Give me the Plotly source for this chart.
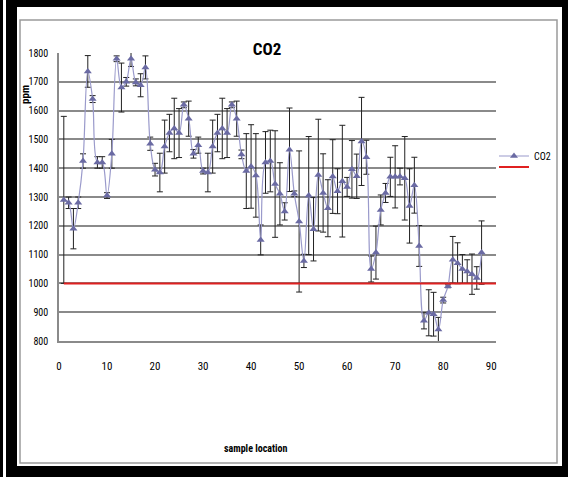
import plotly.graph_objects as go

# ---------------- data ----------------
sample_location = list(range(1, 89))
co2_ppm = [
    1290, 1280, 1190, 1280, 1425, 1736, 1640, 1420, 1420, 1305,
    1450, 1780, 1680, 1700, 1780, 1698, 1688, 1750, 1485, 1395,
    1385, 1475, 1522, 1538, 1522, 1620, 1572, 1450, 1480, 1390,
    1385, 1475, 1522, 1538, 1522, 1620, 1572, 1448, 1390, 1406,
    1375, 1151, 1420, 1425, 1345, 1311, 1250, 1464, 1311, 1215,
    1078, 1305, 1188, 1376, 1314, 1261, 1371, 1320, 1355, 1335,
    1396, 1372, 1493, 1438, 1050, 1107, 1255, 1314, 1370, 1370,
    1371, 1365, 1269, 1341, 1130, 870, 898, 893, 840, 942,
    990, 1082, 1070, 1050, 1041, 1032, 1019, 1107,
]
co2_err = [
    290, 20, 70, 20, 25, 55, 12, 20, 20, 10,
    50, 10, 85, 15, 27, 12, 40, 40, 23, 22,
    67, 92, 65, 105, 85, 10, 61, 15, 28, 10,
    67, 92, 65, 105, 85, 10, 61, 15, 130, 145,
    145, 52, 107, 107, 185, 108, 30, 145, 10, 245,
    23, 205, 110, 194, 136, 99, 128, 78, 194, 33,
    100, 77, 153, 59, 45, 92, 52, 33, 68, 108,
    29, 145, 129, 97, 71, 28, 80, 76, 42, 10,
    5, 81, 71, 50, 41, 70, 39, 110,
]
limit_x = [1, 91]
limit_y = [1000, 1000]
x_ticks = [0, 10, 20, 30, 40, 50, 60, 70, 80, 90]
y_ticks = [800, 900, 1000, 1100, 1200, 1300, 1400, 1500, 1600, 1700, 1800]

# ---------------- layout geometry ----------------
W, H = 568, 477
ML, MR, MT, MB = 59, 72, 53, 136
PW, PH = W - ML - MR, H - MT - MB


def px2x(px):
    return (px - ML) / PW


def py2y(py):
    return (H - MB - py) / PH


FONT = "Roboto Condensed, DejaVu Sans Condensed, sans-serif"

fig = go.Figure()

fig.add_trace(go.Scatter(
    x=sample_location, y=co2_ppm, name="CO2", mode="lines+markers",
    line=dict(color="#9a9acb", width=1.2, shape="spline", smoothing=1.0),
    marker=dict(symbol="triangle-up", size=7, color="#6a6aa3",
                line=dict(width=0)),
    error_y=dict(type="data", array=co2_err, visible=True,
                 color="#222222", thickness=1, width=3),
    cliponaxis=False, legend="legend",
))

fig.add_trace(go.Scatter(
    x=limit_x, y=limit_y, name=" ", mode="lines",
    line=dict(color="#e02020", width=2),
    cliponaxis=False, legend="legend2",
))

shapes = [
    # white page area inside black frame
    dict(type="rect", xref="paper", yref="paper", layer="below",
         x0=px2x(17), x1=px2x(562), y0=py2y(466), y1=py2y(7),
         fillcolor="white", line=dict(width=0)),
    # thin white stripe in left frame
    dict(type="rect", xref="paper", yref="paper", layer="below",
         x0=px2x(3), x1=px2x(6), y0=py2y(477), y1=py2y(0),
         fillcolor="white", line=dict(width=0)),
    # gray chart-area border
    dict(type="rect", xref="paper", yref="paper", layer="below",
         x0=px2x(20), x1=px2x(557), y0=py2y(463), y1=py2y(20),
         fillcolor="rgba(0,0,0,0)", line=dict(color="#9a9a9a", width=1.5)),
]

annotations = [
    dict(text="<b>ppm</b>", xref="paper", yref="paper",
         x=px2x(25), y=py2y(95), showarrow=False, textangle=-90,
         font=dict(family=FONT, size=11, color="black"),
         xanchor="center", yanchor="middle"),
    dict(text="<b>sample location</b>", xref="paper", yref="paper",
         x=px2x(256), y=py2y(448), showarrow=False,
         font=dict(family=FONT, size=10, color="black"),
         xanchor="center", yanchor="middle"),
]

legend_common = dict(xanchor="left", yanchor="middle", bgcolor="rgba(0,0,0,0)",
                     font=dict(family=FONT, size=10, color="black"),
                     itemwidth=30, borderwidth=0)

fig.update_layout(
    width=W, height=H,
    margin=dict(l=ML, r=MR, t=MT, b=MB, pad=0),
    paper_bgcolor="black",
    plot_bgcolor="white",
    title=dict(text="<b>CO2</b>", x=px2x(267), xref="paper", xanchor="center",
               y=1 - 49 / H, yref="container", yanchor="middle",
               font=dict(family=FONT, size=17, color="black")),
    showlegend=True,
    legend=dict(x=px2x(494), y=py2y(156), **legend_common),
    legend2=dict(x=px2x(494), y=py2y(167), **legend_common),
    shapes=shapes,
    annotations=annotations,
)

fig.update_xaxes(
    range=[0, 91], tickvals=x_ticks, showgrid=False, zeroline=False,
    showline=True, linecolor="#8a8a8a", linewidth=1.5,
    ticks="", ticklabelstandoff=14,
    tickfont=dict(family=FONT, size=11, color="black"),
)
fig.update_yaxes(
    range=[800, 1800], tickvals=y_ticks, showgrid=True,
    gridcolor="#8a8a8a", gridwidth=1.5, zeroline=False,
    showline=True, linecolor="#8a8a8a", linewidth=1.5,
    ticks="", ticklabelstandoff=7,
    tickfont=dict(family=FONT, size=10, color="black"),
)

fig.write_html("out.html")
